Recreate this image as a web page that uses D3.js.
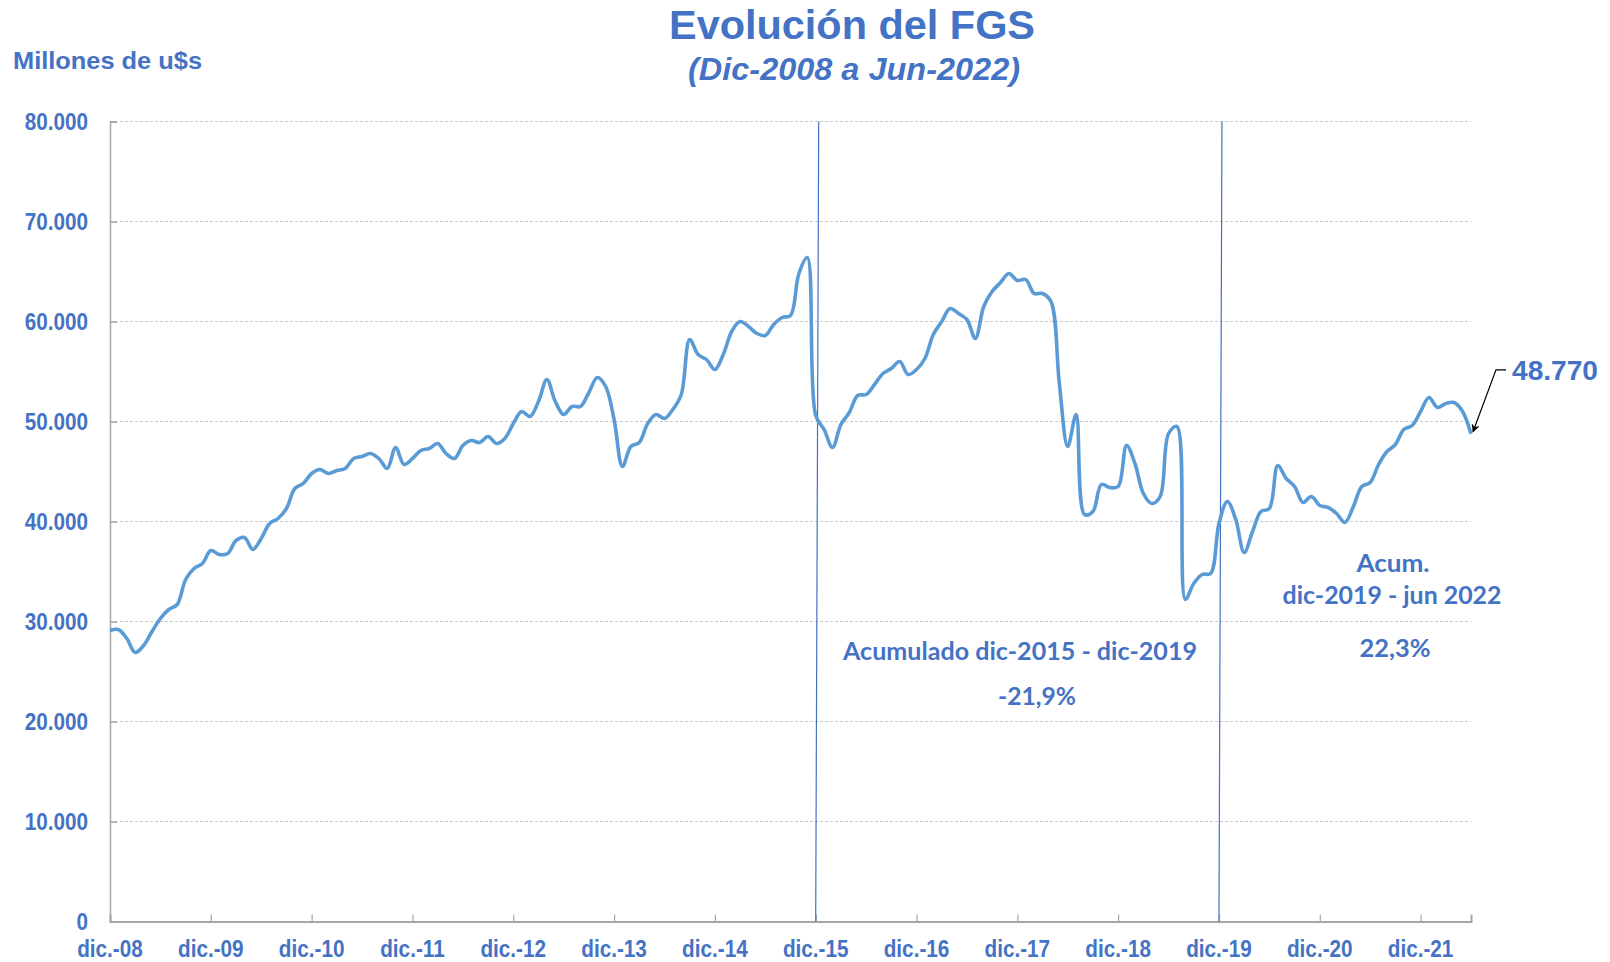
<!DOCTYPE html>
<html>
<head>
<meta charset="utf-8">
<script src="https://cdn.jsdelivr.net/npm/d3@7"></script>
<style>
  body { margin: 0; background: #fff; }
  svg { display: block; }
</style>
</head>
<body>
<div id="chart"></div>
<script>
// FGS monthly stock, millions of US$, dic-2008 .. jun-2022 (163 months)
const fgs_values = [
  29100, 29200, 28300, 26900, 27600, 29000, 30300, 31200, 31700, 34200, 35300, 35800,
  37100, 36700, 36800, 38100, 38400, 37200, 38300, 39800, 40300, 41300, 43300, 43800,
  44800, 45200, 44800, 45100, 45300, 46300, 46500, 46800, 46300, 45300, 47400, 45700,
  46300, 47100, 47300, 47800, 46800, 46300, 47600, 48100, 47900, 48500, 47800, 48300,
  49800, 51000, 50500, 52000, 54200, 52000, 50700, 51500, 51500, 52900, 54400, 53500,
  50200, 45500, 47500, 47900, 49800, 50700, 50300, 51200, 52700, 58200, 56700, 56200,
  55200, 56700, 59000, 60000, 59500, 58800, 58600, 59700, 60400, 60600, 64800, 66400,
  50600, 49200, 47400, 49700, 50900, 52600, 52700, 53700, 54800, 55300, 56000, 54700,
  55200, 56300, 58700, 60000, 61300, 60800, 60200, 58300, 61500, 63000, 63900, 64800,
  64100, 64200, 62800, 62800, 62000, 53800, 47500, 50700, 40700, 41000, 43700, 43400,
  43500, 47600, 45800, 42800, 41800, 42500, 48800, 49500, 32200, 33800, 34700, 34800,
  39800, 42000, 40200, 36900, 39000, 41000, 41300, 45600, 44300, 43500, 41900, 42500,
  41600, 41400, 40800, 39900, 41500, 43500, 43900, 45700, 47000, 47700, 49200, 49600,
  51000, 52400, 51400, 51800, 51900, 51000, 48770
];

const x_tick_months = [0, 12, 24, 36, 48, 60, 72, 84, 96, 108, 120, 132, 144, 156];
const x_tick_labels = ["dic.-08", "dic.-09", "dic.-10", "dic.-11", "dic.-12", "dic.-13", "dic.-14",
                       "dic.-15", "dic.-16", "dic.-17", "dic.-18", "dic.-19", "dic.-20", "dic.-21"];
const y_ticks = [0, 10000, 20000, 30000, 40000, 50000, 60000, 70000, 80000];
const y_tick_labels = ["0", "10.000", "20.000", "30.000", "40.000", "50.000", "60.000", "70.000", "80.000"];

const period_marks = [84, 132];  // dic-15, dic-19
const last_label = "48.770";

const BLUE = "#4472C4";
const LINE = "#5B9BD5";

// narrow the Arial glyphs a bit, like the original's condensed labels
function squeeze(sel, k) {
  sel.each(function() {
    const len = this.getComputedTextLength();
    d3.select(this).attr("textLength", len * k).attr("lengthAdjust", "spacingAndGlyphs");
  });
}

function PlotFGS(parent_element) {
  const W = 1610, H = 962;
  const svg = d3.select(`#${parent_element}`)
    .append("svg")
    .attr("width", W)
    .attr("height", H);

  const x = d3.scaleLinear().domain([0, fgs_values.length - 1]).range([110, 1471]);
  const y = d3.scaleLinear().domain([0, 80000]).range([921.5, 121.5]);

  // grid
  svg.append("g")
    .selectAll("line")
    .data(y_ticks.slice(1))
    .join("line")
    .attr("x1", x(0)).attr("x2", x(fgs_values.length - 1))
    .attr("y1", d => y(d)).attr("y2", d => y(d))
    .attr("stroke", "#c8c8c8")
    .attr("stroke-width", 1)
    .attr("stroke-dasharray", "3,2");

  // y axis (ticks inside)
  const yAxis = d3.axisRight(y).tickValues(y_ticks).tickSize(7).tickFormat("");
  const gy = svg.append("g").attr("transform", `translate(${x(0)},0)`).call(yAxis);
  gy.select(".domain").attr("stroke", "#a6a6a6").attr("stroke-width", 1.5);
  gy.selectAll(".tick line").attr("stroke", "#a6a6a6").attr("stroke-width", 1.5);

  svg.append("g")
    .selectAll("text")
    .data(y_ticks)
    .join("text")
    .attr("x", 88)
    .attr("y", d => y(d) + 8)
    .attr("text-anchor", "end")
    .attr("font-family", "Liberation Sans, Arial, sans-serif")
    .attr("font-weight", "bold")
    .attr("font-size", 23)
    .attr("fill", BLUE)
    .text((d, i) => y_tick_labels[i])
    .call(squeeze, 0.9);

  // x axis (ticks inside)
  const xAxis = d3.axisTop(x).tickValues(x_tick_months).tickSize(7).tickFormat("");
  const gx = svg.append("g").attr("transform", `translate(0,${y(0)})`).call(xAxis);
  gx.select(".domain").attr("stroke", "#a6a6a6").attr("stroke-width", 2);
  gx.selectAll(".tick line").attr("stroke", "#a6a6a6").attr("stroke-width", 1.2);

  svg.append("g")
    .selectAll("text")
    .data(x_tick_months)
    .join("text")
    .attr("x", d => x(d))
    .attr("y", 957)
    .attr("text-anchor", "middle")
    .attr("font-family", "Liberation Sans, Arial, sans-serif")
    .attr("font-weight", "bold")
    .attr("font-size", 23)
    .attr("fill", BLUE)
    .text((d, i) => x_tick_labels[i])
    .call(squeeze, 0.9);

  // period separators
  svg.append("g")
    .selectAll("line")
    .data(period_marks)
    .join("line")
    .attr("x1", d => x(d) + 3).attr("y1", y(80000))
    .attr("x2", d => x(d)).attr("y2", y(0))
    .attr("stroke", BLUE)
    .attr("stroke-width", 1.2);

  // series
  const line = d3.line()
    .x((d, i) => x(i))
    .y(d => y(d))
    .curve(d3.curveCatmullRom.alpha(0.5));

  svg.append("path")
    .datum(fgs_values)
    .attr("fill", "none")
    .attr("stroke", LINE)
    .attr("stroke-width", 3.6)
    .attr("stroke-linejoin", "round")
    .attr("d", line);

  // titles
  svg.append("text")
    .attr("x", 852).attr("y", 39)
    .attr("text-anchor", "middle")
    .attr("font-family", "Liberation Sans, Arial, sans-serif")
    .attr("font-weight", "bold")
    .attr("font-size", 40)
    .attr("fill", BLUE)
    .attr("textLength", 366)
    .attr("lengthAdjust", "spacingAndGlyphs")
    .text("Evolución del FGS");

  svg.append("text")
    .attr("x", 854).attr("y", 80)
    .attr("text-anchor", "middle")
    .attr("font-family", "Liberation Sans, Arial, sans-serif")
    .attr("font-weight", "bold")
    .attr("font-style", "italic")
    .attr("font-size", 32)
    .attr("fill", BLUE)
    .attr("textLength", 332)
    .attr("lengthAdjust", "spacingAndGlyphs")
    .text("(Dic-2008 a Jun-2022)");

  svg.append("text")
    .attr("x", 13).attr("y", 69)
    .attr("font-family", "Liberation Sans, Arial, sans-serif")
    .attr("font-weight", "bold")
    .attr("font-size", 23)
    .attr("fill", BLUE)
    .attr("textLength", 189)
    .attr("lengthAdjust", "spacingAndGlyphs")
    .text("Millones de u$s");

  // annotations
  const notes = [
    {t: "Acumulado dic-2015 - dic-2019", cx: 1020, by: 660, w: 354},
    {t: "-21,9%", cx: 1037, by: 705, w: 78},
    {t: "Acum.", cx: 1393, by: 572, w: 73},
    {t: "dic-2019 - jun 2022", cx: 1392, by: 604, w: 219},
    {t: "22,3%", cx: 1395, by: 657, w: 71}
  ];
  svg.append("g")
    .selectAll("text")
    .data(notes)
    .join("text")
    .attr("x", d => d.cx).attr("y", d => d.by)
    .attr("text-anchor", "middle")
    .attr("font-family", "Lato, 'Open Sans', sans-serif")
    .attr("font-weight", "bold")
    .attr("font-size", 24)
    .attr("fill", BLUE)
    .attr("textLength", d => d.w)
    .attr("lengthAdjust", "spacingAndGlyphs")
    .text(d => d.t);

  // last value callout
  const lastI = fgs_values.length - 1;
  svg.append("defs").append("marker")
    .attr("id", "arrow")
    .attr("viewBox", "0 0 10 10")
    .attr("refX", 9).attr("refY", 5)
    .attr("markerWidth", 7).attr("markerHeight", 7)
    .attr("orient", "auto")
    .append("path")
    .attr("d", "M0,0 L10,5 L0,10 L3,5 Z")
    .attr("fill", "#000");

  svg.append("path")
    .attr("d", `M${x(lastI) + 35},${y(fgs_values[lastI]) - 64} L${x(lastI) + 25},${y(fgs_values[lastI]) - 64} L${x(lastI) + 2},${y(fgs_values[lastI]) - 2}`)
    .attr("fill", "none")
    .attr("stroke", "#000")
    .attr("stroke-width", 1.2)
    .attr("marker-end", "url(#arrow)");

  svg.append("text")
    .attr("x", 1512).attr("y", 380)
    .attr("font-family", "Liberation Sans, Arial, sans-serif")
    .attr("font-weight", "bold")
    .attr("font-size", 27)
    .attr("fill", BLUE)
    .attr("textLength", 86)
    .attr("lengthAdjust", "spacingAndGlyphs")
    .text(last_label);
}

document.addEventListener('DOMContentLoaded', () => {
  PlotFGS("chart");
});
</script>
</body>
</html>
